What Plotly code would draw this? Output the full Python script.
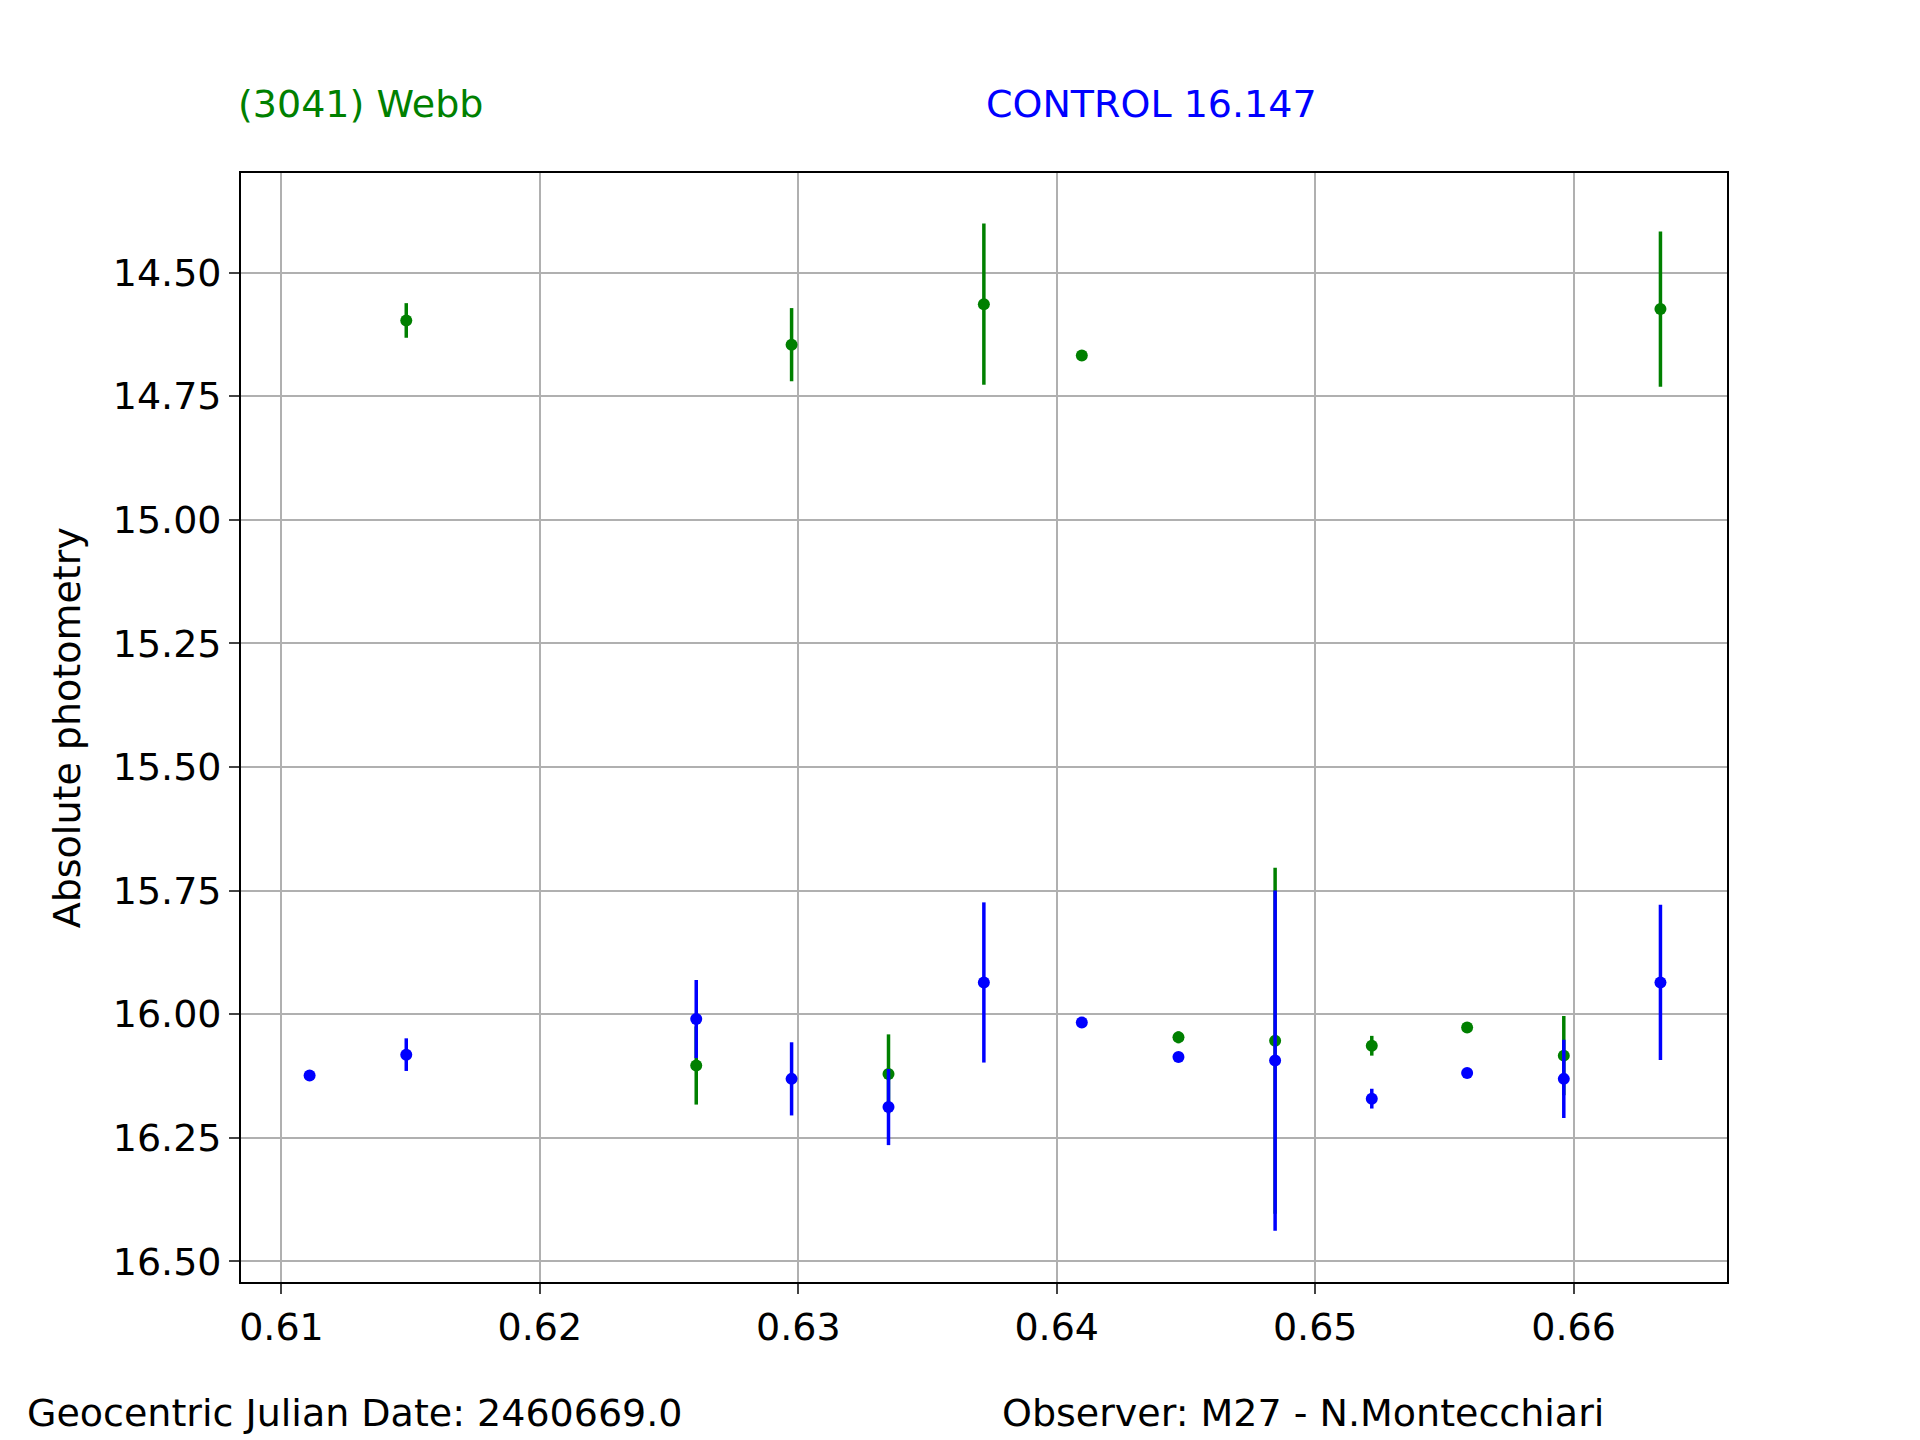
import plotly.graph_objects as go

gx = [0.61483, 0.62974, 0.63718, 0.64097, 0.66336, 0.62605, 0.63349, 0.64471, 0.64845, 0.65219, 0.65588, 0.65962]
gy = [14.597, 14.646, 14.564, 14.668, 14.574, 16.104, 16.121, 16.047, 16.054, 16.064, 16.027, 16.084]
ge = [0.035, 0.074, 0.163, 0.010, 0.157, 0.079, 0.080, 0.012, 0.350, 0.020, 0.010, 0.080]

bx = [0.61109, 0.61483, 0.62605, 0.62974, 0.63349, 0.63718, 0.64097, 0.64471, 0.64845, 0.65219, 0.65588, 0.65962, 0.66336]
by = [16.124, 16.082, 16.010, 16.131, 16.188, 15.936, 16.017, 16.087, 16.094, 16.171, 16.119, 16.131, 15.936]
be = [0.005, 0.033, 0.079, 0.074, 0.077, 0.162, 0.005, 0.010, 0.344, 0.020, 0.006, 0.079, 0.157]

xticks = [0.61, 0.62, 0.63, 0.64, 0.65, 0.66]
yticks = [14.5, 14.75, 15.0, 15.25, 15.5, 15.75, 16.0, 16.25, 16.5]

fig = go.Figure()
for x, y, e, c in [(gx, gy, ge, "green"), (bx, by, be, "blue")]:
    fig.add_trace(go.Scatter(x=x, y=y, mode="markers",
        marker=dict(color=c, size=12),
        error_y=dict(type="data", array=e, color=c, thickness=3.5, width=0),
        showlegend=False))

font = dict(family="DejaVu Sans", size=38, color="black")
ax = dict(showline=True, linecolor="black", linewidth=2, mirror=True, ticks="outside",
          ticklen=10, tickwidth=2, showgrid=True, gridcolor="#b0b0b0", gridwidth=2,
          zeroline=False, tickfont=font)
fig.update_layout(
    width=1920, height=1440, plot_bgcolor="white", paper_bgcolor="white",
    margin=dict(l=0, r=0, t=0, b=0), font=font,
    xaxis=dict(ax, range=[0.60844, 0.66592], tickvals=xticks,
               ticktext=[f"{v:.2f}" for v in xticks], domain=[0.1205, 0.895]),
    yaxis=dict(ax, range=[16.542, 14.2995], tickvals=yticks,
               ticktext=[f"{v:.2f}" for v in yticks], domain=[0.114, 0.885],
               title=dict(text="Absolute photometry", font=font, standoff=20)),
    annotations=[
        dict(text="(3041) Webb", x=0.118, y=0.933, xref="paper", yref="paper",
             xanchor="left", yanchor="middle", showarrow=False, font=dict(font, color="green")),
        dict(text="CONTROL 16.147", x=0.508, y=0.933, xref="paper", yref="paper",
             xanchor="left", yanchor="middle", showarrow=False, font=dict(font, color="blue")),
        dict(text="Geocentric Julian Date: 2460669.0", x=0.008, y=0.023, xref="paper", yref="paper",
             xanchor="left", yanchor="middle", showarrow=False, font=font),
        dict(text="Observer: M27 - N.Montecchiari", x=0.516, y=0.023, xref="paper", yref="paper",
             xanchor="left", yanchor="middle", showarrow=False, font=font),
    ])
fig.write_html("out.html")
